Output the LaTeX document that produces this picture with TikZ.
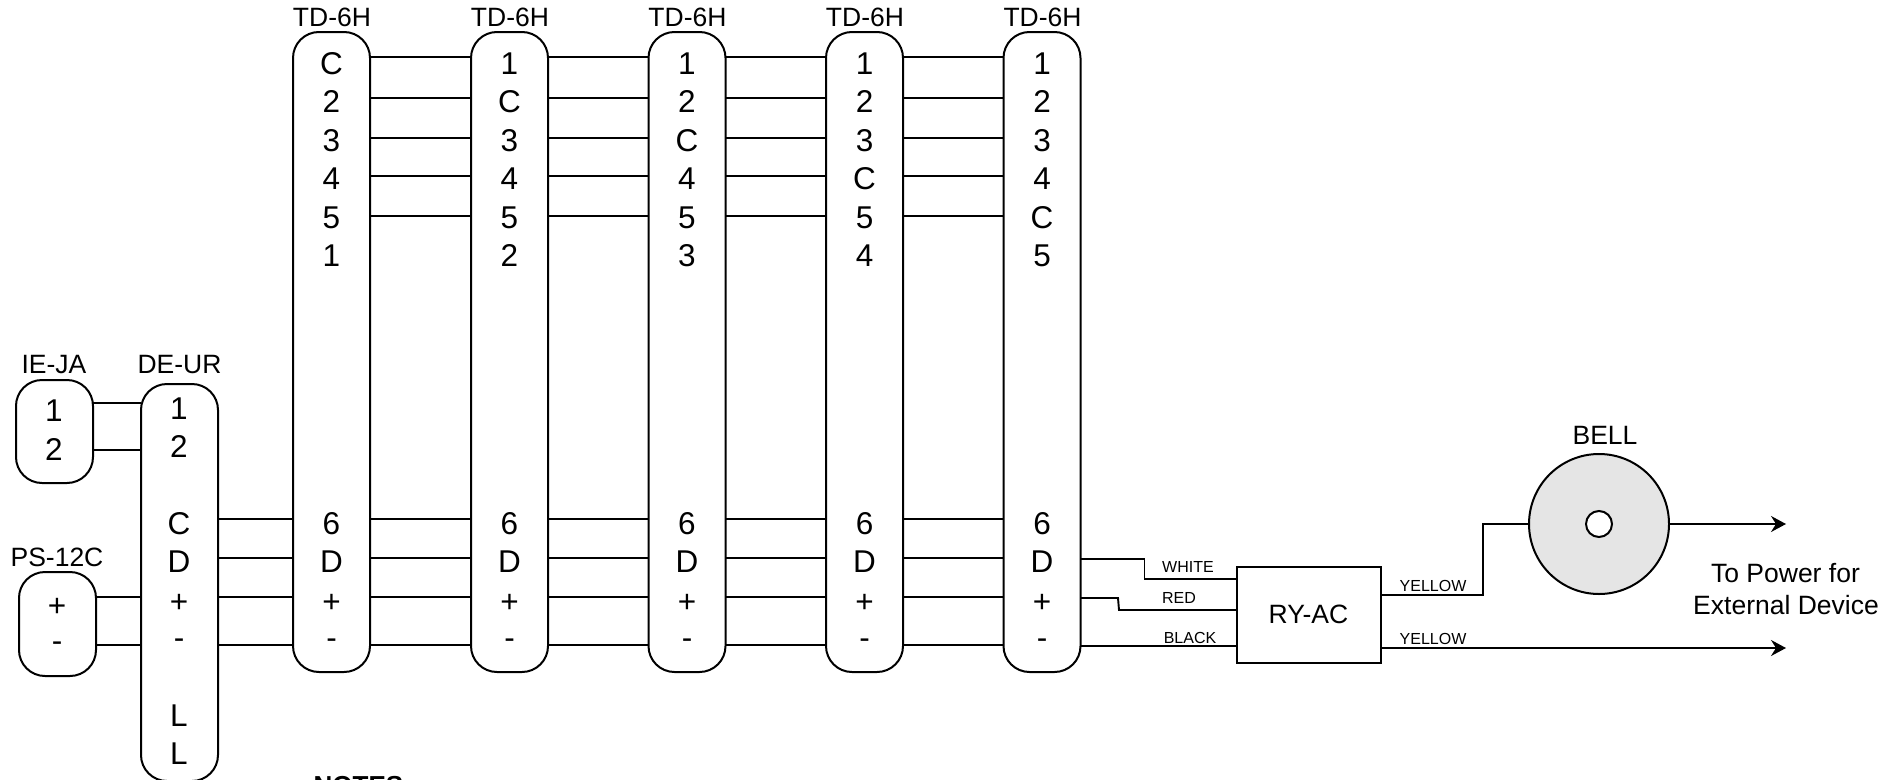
\documentclass[tikz,border=0pt]{standalone}
\usepackage{fontspec}
\setmainfont{Liberation Sans}
\usetikzlibrary{arrows.meta}
\tikzset{
  x=1pt,y=-1pt,
  every node/.style={outer sep=0pt,inner sep=0pt},
  wire/.style={line width=1.9pt,black},
  feed/.style={wire,-{Stealth[length=15pt,width=16pt,inset=5pt]}},
  conn/.style={draw=black,fill=white,line width=2pt,rounded corners=26pt,minimum width=77pt},
  pinlbl/.style={font=\fontsize{31.5}{31.5}\selectfont,text height=22.5pt,text depth=0pt,anchor=center},
  namelbl/.style={font=\fontsize{26.5}{26.5}\selectfont,text height=19pt,text depth=0pt,anchor=center},
  smalllbl/.style={font=\fontsize{16}{16}\selectfont,text height=11.5pt,text depth=0pt,anchor=center},
}
\begin{document}
\begin{tikzpicture}
\clip (0,0) rectangle (1900,779);
% TD-6H connectors
\foreach \i/\cx/\pa/\pb/\pc/\pd/\pe/\pf in {
  1/331.5/C/2/3/4/5/1,
  2/509.5/1/C/3/4/5/2,
  3/687/1/2/C/4/5/3,
  4/864.5/1/2/3/C/5/4,
  5/1042/1/2/3/4/C/5}{
  \node[conn,minimum height=640pt] (t\i) at (\cx,352) {};
  \node[namelbl] (tn\i) at (\cx+0.5,17) {TD-6H};
  \node[pinlbl] (ta\i) at (\cx,63) {\pa};
  \node[pinlbl] (tb\i) at (\cx,101.5) {\pb};
  \node[pinlbl] (tc\i) at (\cx,140) {\pc};
  \node[pinlbl] (td\i) at (\cx,178.5) {\pd};
  \node[pinlbl] (te\i) at (\cx,217) {\pe};
  \node[pinlbl] (tf\i) at (\cx,255) {\pf};
  \node[pinlbl] (tg\i) at (\cx,523) {6};
  \node[pinlbl] (th\i) at (\cx,561) {D};
  \node[pinlbl] (tj\i) at (\cx,601) {+};
  \node[pinlbl] (tk\i) at (\cx,637.5) {-};
}
% DE-UR
\node[conn,minimum height=397pt] (de) at (179.5,582.5) {};
\node[namelbl] (den) at (179.5,364) {DE-UR};
\foreach \n/\t/\y in {p/1/408,q/2/446.5,r/C/523,s/D/561,u/+/601,v/-/637.5,w/L/715,z/L/753}{
  \node[pinlbl] (de\n) at (179,\y) {\t};
}
% IE-JA
\node[conn,minimum height=103pt] (ie) at (54.5,431.5) {};
\node[namelbl] (ien) at (54,364) {IE-JA};
\node[pinlbl] (iea) at (54,410.5) {1};
\node[pinlbl] (ieb) at (54,449) {2};
% PS-12C
\node[conn,minimum height=104pt] (ps) at (57.5,624) {};
\node[namelbl] (psn) at (57,557) {PS-12C};
\node[pinlbl] (psa) at (57,605) {+};
\node[pinlbl] (psb) at (57,640.5) {-};
% relay
\node[draw=black,line width=2pt,minimum width=144pt,minimum height=96pt] (ry) at (1309,615) {};
\node[namelbl] (ryn) at (1308.5,613.5) {RY-AC};
% bell
\node[circle,draw=black,fill=black!10,line width=2pt,minimum size=140pt] (bell) at (1599,524) {};
\node[circle,draw=black,fill=white,line width=2pt,minimum size=26pt] (bellc) at (1599,524) {};
\node[namelbl] (belln) at (1605,435) {BELL};
\node[namelbl] (pwa) at (1785.5,573) {To Power for};
\node[namelbl] (pwb) at (1786,605) {External Device};
% notes
\node[namelbl,font=\fontsize{26}{26}\selectfont\bfseries] (notes) at (358.5,785) {NOTES};
% wires between connectors
\draw[wire] (ie.east |- 0,403) -- (de.west |- 0,403);
\draw[wire] (ie.east |- 0,450) -- (de.west |- 0,450);
\draw[wire] (ps.east |- 0,597) -- (de.west |- 0,597);
\draw[wire] (ps.east |- 0,645) -- (de.west |- 0,645);
\foreach \y in {519,558,597,645}{
  \draw[wire] (de.east |- 0,\y) -- (t1.west |- 0,\y);
}
\foreach \i/\j in {1/2,2/3,3/4,4/5}{
  \foreach \y in {57,98,138,176,216,519,558,597,645}{
    \draw[wire] (t\i.east |- 0,\y) -- (t\j.west |- 0,\y);
  }
}
% to relay
\draw[wire] (t5.east |- 0,559) -- (1144.5,559) -- (1144.5,579) -- (ry.west |- 0,579);
\draw[wire] (t5.east |- 0,598) -- (1118,598) -- (1119,610) -- (ry.west |- 0,610);
\draw[wire] (t5.east |- 0,646) -- (ry.west |- 0,646);
\node[smalllbl] (lw) at (1188,567) {WHITE};
\node[smalllbl] (lr) at (1179,597.5) {RED};
\node[smalllbl] (lb) at (1190,637.5) {BLACK};
\node[smalllbl] (ly1) at (1433,586) {YELLOW};
\node[smalllbl] (ly2) at (1433,639) {YELLOW};
% outputs
\coordinate (o1) at (1786,524);
\coordinate (o2) at (1786,648);
\draw[wire] (ry.east |- 0,595) -- (1483,595) -- (1483,524) -- (bell.west |- 0,524);
\draw[feed] (bell.east |- 0,524) -- (o1);
\draw[feed] (ry.east |- 0,648) -- (o2);
\end{tikzpicture}
\end{document}
